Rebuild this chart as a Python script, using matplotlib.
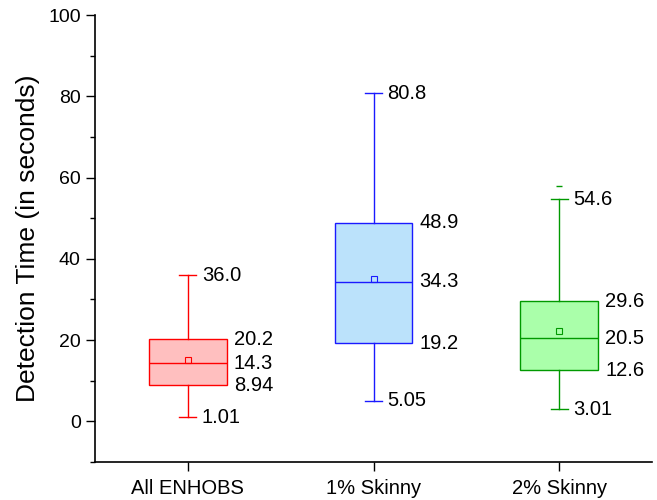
import matplotlib.pyplot as plt

plt.rcParams['font.family'] = ['Liberation Sans', 'DejaVu Sans']

# Box statistics
groups = ['All ENHOBS', '1% Skinny', '2% Skinny']
whislo = [1.01, 5.05, 3.01]
q1 = [8.94, 19.2, 12.6]
median = [14.3, 34.3, 20.5]
q3 = [20.2, 48.9, 29.6]
whishi = [36.0, 80.8, 54.6]
means = [15.2, 35.1, 22.2]
fliers = [[], [], [57.9]]

edge_colors = ['#ff0000', '#1a1aff', '#009900']
face_colors = ['#ffbfbf', '#bbe2fb', '#aaffaa']


def plot_boxes():
    fig = plt.figure(figsize=(6.57, 5), dpi=100)
    ax = fig.add_axes([0.1446, 0.076, 0.8478, 0.894])

    stats = []
    for i, name in enumerate(groups):
        stats.append(dict(label=name, whislo=whislo[i], q1=q1[i], med=median[i],
                          q3=q3[i], whishi=whishi[i], mean=means[i], fliers=fliers[i]))

    positions = [1, 2, 3]
    for i in range(3):
        c = edge_colors[i]
        ax.bxp([stats[i]], positions=[positions[i]], widths=0.42, patch_artist=True,
               showmeans=True, capwidths=0.09,
               boxprops=dict(facecolor=face_colors[i], edgecolor=c, linewidth=1.0),
               medianprops=dict(color=c, linewidth=1.0),
               whiskerprops=dict(color=c, linewidth=1.0),
               capprops=dict(color=c, linewidth=1.0),
               meanprops=dict(marker='s', markersize=4, markerfacecolor='none',
                              markeredgecolor=c, markeredgewidth=0.8),
               flierprops=dict(marker='_', markersize=4, markeredgecolor=c,
                               markeredgewidth=1.0))

        # value labels to the right of the box and caps
        for v in (q1[i], median[i], q3[i]):
            txt = '%.3g' % v if v < 10 else '%.1f' % v
            ax.annotate(txt, (positions[i] + 0.21, v), xytext=(5, 0),
                        textcoords='offset points', va='center', ha='left', fontsize=14.5)
        for v in (whislo[i], whishi[i]):
            txt = '%.2f' % v if v < 10 else '%.1f' % v
            ax.annotate(txt, (positions[i] + 0.045, v), xytext=(4, 0),
                        textcoords='offset points', va='center', ha='left', fontsize=14.5)

    ax.set_xlim(0.5, 3.5)
    ax.set_ylim(-10, 100)
    ax.set_yticks([0, 20, 40, 60, 80, 100])
    ax.set_yticks([-10, 10, 30, 50, 70, 90], minor=True)
    ax.set_xticks(positions)
    ax.set_xticklabels(groups)
    ax.tick_params(axis='y', which='major', length=6.7, width=1, labelsize=14, direction='out')
    ax.tick_params(axis='y', which='minor', length=3.6, width=1)
    ax.tick_params(axis='x', length=6.5, width=1, labelsize=14.5, pad=6)
    ax.spines['top'].set_visible(False)
    ax.spines['right'].set_visible(False)
    ax.spines['left'].set_linewidth(1.2)
    ax.spines['bottom'].set_linewidth(1.2)
    ax.set_ylabel('Detection Time (in seconds)', fontsize=19, labelpad=6)

    fig.savefig('out.png', dpi=100)


if __name__ == '__main__':
    plot_boxes()
